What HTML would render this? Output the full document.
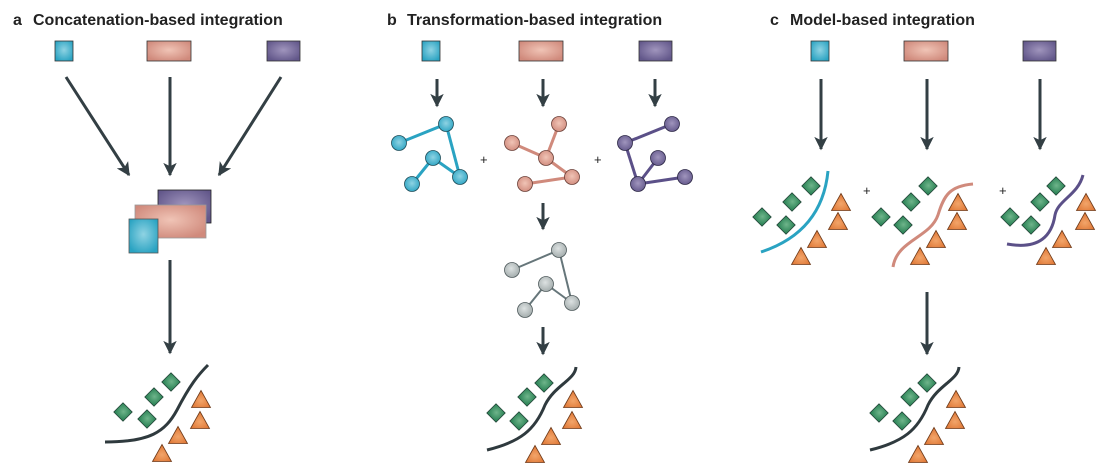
<!DOCTYPE html>
<html><head><meta charset="utf-8"><style>
html,body{margin:0;padding:0;background:#fff;width:1116px;height:476px;overflow:hidden}
svg{display:block}
text{font-family:"Liberation Sans",sans-serif}
</style></head><body>
<svg width="1116" height="476" viewBox="0 0 1116 476" xmlns="http://www.w3.org/2000/svg">
<defs>
<radialGradient id="gc" cx="50%" cy="45%" r="60%"><stop offset="0" stop-color="#8fd3e3"/><stop offset="1" stop-color="#2aa3c2"/></radialGradient>
<radialGradient id="gp" cx="50%" cy="45%" r="60%"><stop offset="0" stop-color="#f0c4b6"/><stop offset="1" stop-color="#d08a7c"/></radialGradient>
<radialGradient id="gv" cx="50%" cy="45%" r="60%"><stop offset="0" stop-color="#a095bd"/><stop offset="1" stop-color="#62578a"/></radialGradient>
<radialGradient id="gg" cx="45%" cy="40%" r="60%"><stop offset="0" stop-color="#dde2e2"/><stop offset="1" stop-color="#a4adad"/></radialGradient>
<radialGradient id="gd" cx="50%" cy="45%" r="60%"><stop offset="0" stop-color="#6fb58b"/><stop offset="1" stop-color="#2f8659"/></radialGradient>
<radialGradient id="gt" cx="50%" cy="60%" r="60%"><stop offset="0" stop-color="#f2a56a"/><stop offset="1" stop-color="#de7432"/></radialGradient>
<marker id="ah" viewBox="0 0 10 10" refX="9" refY="5" markerWidth="4.5" markerHeight="5" orient="auto" markerUnits="strokeWidth"><path d="M0,0 L10,5 L0,10 L2.5,5 Z" fill="#333f44"/></marker>
<g id="dia"><rect x="-6.5" y="-6.5" width="13" height="13" transform="rotate(45)" fill="url(#gd)" stroke="#24473a" stroke-width="0.8"/></g>
<g id="tri"><path d="M0,-9.5 L9.5,7.5 L-9.5,7.5 Z" fill="url(#gt)" stroke="#6d3a1a" stroke-width="0.8"/></g>
<g id="plotb">
<path d="M487,450 C520,442 535,430 545,405 C555,385 575,380 576,367" fill="none" stroke="#2f3a3e" stroke-width="3"/>
<use href="#dia" x="544" y="383"/><use href="#dia" x="527" y="397"/><use href="#dia" x="496" y="413"/><use href="#dia" x="519" y="421"/>
<use href="#tri" x="573" y="400"/><use href="#tri" x="572" y="421"/><use href="#tri" x="551" y="437"/><use href="#tri" x="535" y="455"/>
</g>
</defs>
<g font-weight="bold" font-size="16" fill="#222">
<text x="13" y="25">a</text><text x="33" y="25">Concatenation-based integration</text>
<text x="387" y="25">b</text><text x="407" y="25">Transformation-based integration</text>
<text x="770" y="25">c</text><text x="790" y="25">Model-based integration</text>
</g>
<g stroke="#333" stroke-width="0.8">
<rect x="55" y="41" width="18" height="20" fill="url(#gc)"/>
<rect x="147" y="41" width="44" height="20" fill="url(#gp)"/>
<rect x="267" y="41" width="33" height="20" fill="url(#gv)"/>
<rect x="422" y="41" width="18" height="20" fill="url(#gc)"/>
<rect x="519" y="41" width="44" height="20" fill="url(#gp)"/>
<rect x="639" y="41" width="33" height="20" fill="url(#gv)"/>
<rect x="811" y="41" width="18" height="20" fill="url(#gc)"/>
<rect x="904" y="41" width="44" height="20" fill="url(#gp)"/>
<rect x="1023" y="41" width="33" height="20" fill="url(#gv)"/>
<rect x="158" y="190" width="53" height="33" fill="url(#gv)" stroke="#222"/>
<rect x="135" y="205" width="71" height="33" fill="url(#gp)" stroke="#999"/>
<rect x="129" y="219" width="29" height="34" fill="url(#gc)" stroke="#555"/>
</g>
<g stroke="#333f44" stroke-width="3" marker-end="url(#ah)" fill="none">
<line x1="66" y1="77" x2="129" y2="175"/>
<line x1="170" y1="77" x2="170" y2="175"/>
<line x1="281" y1="77" x2="219" y2="175"/>
<line x1="170" y1="260" x2="170" y2="353"/>
<line x1="437" y1="79" x2="437" y2="106"/>
<line x1="543" y1="79" x2="543" y2="106"/>
<line x1="655" y1="79" x2="655" y2="106"/>
<line x1="543" y1="203" x2="543" y2="229"/>
<line x1="543" y1="327" x2="543" y2="354"/>
<line x1="821" y1="79" x2="821" y2="149"/>
<line x1="927" y1="79" x2="927" y2="149"/>
<line x1="1040" y1="79" x2="1040" y2="149"/>
<line x1="927" y1="292" x2="927" y2="354"/>
</g>
<g stroke="#2aa3c2" stroke-width="3"><line x1="399" y1="143" x2="446" y2="124"/><line x1="446" y1="124" x2="460" y2="177"/><line x1="433" y1="158" x2="460" y2="177"/><line x1="433" y1="158" x2="412" y2="184"/></g>
<g fill="url(#gc)" stroke="#1f4c58" stroke-width="0.8"><circle cx="399" cy="143" r="7.5"/><circle cx="446" cy="124" r="7.5"/><circle cx="433" cy="158" r="7.5"/><circle cx="412" cy="184" r="7.5"/><circle cx="460" cy="177" r="7.5"/></g>
<g stroke="#d08a7c" stroke-width="3"><line x1="559" y1="124" x2="546" y2="158"/><line x1="512" y1="143" x2="546" y2="158"/><line x1="546" y1="158" x2="572" y2="177"/><line x1="572" y1="177" x2="525" y2="184"/></g>
<g fill="url(#gp)" stroke="#6b4038" stroke-width="0.8"><circle cx="559" cy="124" r="7.5"/><circle cx="512" cy="143" r="7.5"/><circle cx="546" cy="158" r="7.5"/><circle cx="525" cy="184" r="7.5"/><circle cx="572" cy="177" r="7.5"/></g>
<g stroke="#5b5088" stroke-width="3"><line x1="672" y1="124" x2="625" y2="143"/><line x1="625" y1="143" x2="638" y2="184"/><line x1="638" y1="184" x2="658" y2="158"/><line x1="638" y1="184" x2="685" y2="177"/></g>
<g fill="url(#gv)" stroke="#2d2846" stroke-width="0.8"><circle cx="672" cy="124" r="7.5"/><circle cx="625" cy="143" r="7.5"/><circle cx="658" cy="158" r="7.5"/><circle cx="638" cy="184" r="7.5"/><circle cx="685" cy="177" r="7.5"/></g>
<g stroke="#66767a" stroke-width="2"><line x1="512" y1="270" x2="559" y2="250"/><line x1="559" y1="250" x2="572" y2="303"/><line x1="546" y1="284" x2="572" y2="303"/><line x1="546" y1="284" x2="525" y2="310"/></g>
<g fill="url(#gg)" stroke="#4f5a5c" stroke-width="0.8"><circle cx="559" cy="250" r="7.5"/><circle cx="512" cy="270" r="7.5"/><circle cx="546" cy="284" r="7.5"/><circle cx="525" cy="310" r="7.5"/><circle cx="572" cy="303" r="7.5"/></g>
<g font-size="13" fill="#222"><text x="480" y="164">+</text><text x="594" y="164">+</text><text x="863" y="195">+</text><text x="999" y="195">+</text></g>
<path d="M105,442 C150,442 165,432 177,410 C190,385 198,375 208,365" fill="none" stroke="#2f3a3e" stroke-width="3"/>
<use href="#dia" x="171" y="382"/><use href="#dia" x="154" y="397"/><use href="#dia" x="123" y="412"/><use href="#dia" x="147" y="419"/>
<use href="#tri" x="201" y="400"/><use href="#tri" x="200" y="421"/><use href="#tri" x="178" y="436"/><use href="#tri" x="162" y="454"/>
<use href="#plotb"/>
<use href="#plotb" x="383"/>
<path d="M761,252 Q822,232 828,171" fill="none" stroke="#2aa3c2" stroke-width="3"/>
<use href="#dia" x="811" y="186"/><use href="#dia" x="792" y="202"/><use href="#dia" x="762" y="217"/><use href="#dia" x="786" y="225"/>
<use href="#tri" x="841" y="203"/><use href="#tri" x="838" y="222"/><use href="#tri" x="817" y="240"/><use href="#tri" x="801" y="257"/>
<path d="M893,267 C897,240 930,238 938,215 C944,195 950,186 973,184" fill="none" stroke="#d08a7c" stroke-width="3"/>
<use href="#dia" x="928" y="186"/><use href="#dia" x="911" y="202"/><use href="#dia" x="881" y="217"/><use href="#dia" x="903" y="225"/>
<use href="#tri" x="958" y="203"/><use href="#tri" x="957" y="222"/><use href="#tri" x="936" y="240"/><use href="#tri" x="920" y="257"/>
<path d="M1007,244 C1040,250 1052,235 1055,215 C1058,200 1078,195 1083,175" fill="none" stroke="#5b5088" stroke-width="3"/>
<use href="#dia" x="1056" y="186"/><use href="#dia" x="1040" y="202"/><use href="#dia" x="1010" y="217"/><use href="#dia" x="1031" y="225"/>
<use href="#tri" x="1086" y="203"/><use href="#tri" x="1085" y="222"/><use href="#tri" x="1062" y="240"/><use href="#tri" x="1046" y="257"/>
</svg>
</body></html>
